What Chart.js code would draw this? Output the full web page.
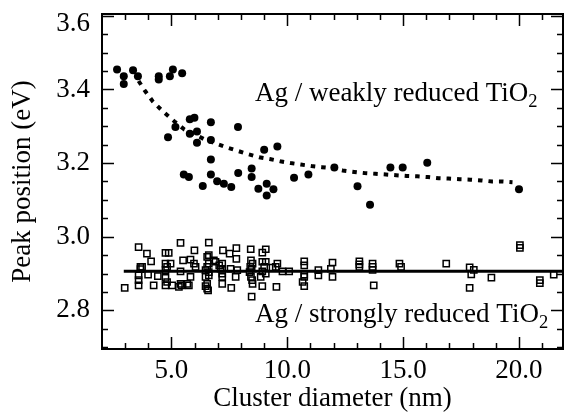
<!DOCTYPE html>
<html>
<head>
<meta charset="utf-8">
<script src="https://cdn.jsdelivr.net/npm/chart.js@4/dist/chart.umd.min.js"></script>
<style>
    html, body { margin: 0; padding: 0; background: #fff; }
</style>
</head>
<body>
<canvas id="chart" width="565" height="416"></canvas>
<script>
// Ag on weakly reduced TiO2 (filled circles)
const weakX = [2.65, 2.94, 2.94, 3.34, 3.55, 4.45, 4.45, 4.93, 5.06, 5.46,
               5.79, 5.99, 5.17, 6.70, 4.85, 5.79, 6.10, 6.10, 6.70, 6.70,
               5.53, 5.75, 6.70, 6.97, 6.35, 7.26, 7.58, 7.87, 9.00, 9.57,
               8.46, 8.46, 7.88, 8.75, 9.11, 9.40, 9.11, 10.29, 10.91, 12.03,
               13.03, 13.57, 14.45, 14.98, 16.04, 20.00];
const weakY = [3.454, 3.436, 3.415, 3.452, 3.436, 3.436, 3.427, 3.436, 3.454, 3.444,
               3.319, 3.323, 3.298, 3.311, 3.270, 3.280, 3.286, 3.255, 3.263, 3.210,
               3.169, 3.162, 3.169, 3.151, 3.138, 3.144, 3.135, 3.298, 3.236, 3.245,
               3.185, 3.162, 3.173, 3.130, 3.144, 3.129, 3.112, 3.160, 3.169, 3.188,
               3.137, 3.087, 3.188, 3.188, 3.201, 3.129];

// dotted trend curve through the weakly reduced data
const fitX = [3.58, 3.87, 4.20, 4.67, 5.13, 5.56, 6.04, 6.50, 6.93, 7.41,
              7.87, 8.32, 8.78, 9.24, 9.69, 10.15, 10.58, 11.04, 11.49, 11.95,
              12.39, 12.89, 13.32, 13.80, 14.26, 14.70, 15.16, 15.61, 16.07, 16.53,
              16.96, 17.44, 17.90, 18.38, 18.84, 19.27, 19.72];
const fitY = [3.423, 3.395, 3.367, 3.338, 3.313, 3.291, 3.277, 3.262, 3.253, 3.242,
              3.233, 3.224, 3.216, 3.211, 3.205, 3.200, 3.196, 3.192, 3.189, 3.186,
              3.180, 3.176, 3.173, 3.171, 3.169, 3.167, 3.165, 3.164, 3.162, 3.159,
              3.158, 3.156, 3.155, 3.153, 3.150, 3.150, 3.148];

// Ag on strongly reduced TiO2 (open squares)
const strongX = [2.98, 3.58, 3.94, 4.12, 3.66, 3.73, 3.66, 3.58, 3.58, 3.58,
                 3.99, 4.23, 4.41, 4.74, 4.88, 4.74, 4.81, 4.74, 4.96, 4.74,
                 4.81, 4.74, 5.03, 5.32, 5.43, 5.39, 5.68, 5.75, 5.39, 5.50,
                 5.39, 5.82, 5.99, 5.97, 6.04, 5.82, 6.61, 6.54, 6.61, 6.61,
                 6.54, 6.47, 6.61, 6.47, 6.61, 6.54, 6.47, 6.54, 6.58, 6.83,
                 6.90, 7.06, 7.12, 7.22, 7.51, 7.80, 7.80, 7.19, 7.19, 7.19,
                 7.19, 7.19, 7.55, 7.84, 7.77, 7.58, 8.42, 8.43, 8.50, 8.40,
                 8.46, 8.37, 8.43, 8.48, 8.50, 8.46, 8.92, 9.07, 8.92, 9.07,
                 9.00, 8.92, 9.07, 8.85, 8.92, 9.53, 9.57, 9.50, 9.36, 9.79,
                 10.08, 10.73, 10.73, 10.73, 10.73, 10.66, 10.73, 11.34, 11.34, 11.95,
                 11.88, 11.95, 13.11, 13.11, 13.11, 13.68, 13.68, 13.68, 13.73, 14.84,
                 14.91, 16.86, 17.87, 18.05, 17.94, 17.87, 18.81, 20.04, 20.04, 20.90,
                 20.90, 21.50];
const strongY = [2.861, 2.972, 2.954, 2.933, 2.918, 2.918, 2.912, 2.895, 2.882, 2.868,
                 2.897, 2.868, 2.893, 2.956, 2.956, 2.927, 2.918, 2.909, 2.927, 2.888,
                 2.877, 2.868, 2.868, 2.864, 2.868, 2.872, 2.872, 2.868, 2.983, 2.936,
                 2.906, 2.938, 2.963, 2.927, 2.918, 2.891, 2.984, 2.945, 2.950, 2.927,
                 2.918, 2.909, 2.904, 2.891, 2.895, 2.872, 2.866, 2.859, 2.854, 2.936,
                 2.932, 2.922, 2.913, 2.963, 2.954, 2.969, 2.940, 2.927, 2.913, 2.900,
                 2.891, 2.872, 2.913, 2.909, 2.891, 2.861, 2.966, 2.936, 2.927, 2.918,
                 2.913, 2.904, 2.891, 2.882, 2.872, 2.837, 2.957, 2.966, 2.932, 2.932,
                 2.918, 2.906, 2.900, 2.891, 2.866, 2.864, 2.927, 2.918, 2.916, 2.906,
                 2.906, 2.933, 2.922, 2.897, 2.891, 2.877, 2.866, 2.909, 2.895, 2.930,
                 2.913, 2.891, 2.933, 2.925, 2.918, 2.927, 2.918, 2.910, 2.868, 2.927,
                 2.918, 2.927, 2.917, 2.910, 2.898, 2.861, 2.889, 2.977, 2.970, 2.882,
                 2.874, 2.897];

// flat level of the strongly reduced data
const levelX = [2.94, 21.9];
const levelY = [2.906, 2.906];

const xTicks = [5, 10, 15, 20];
const yTicks = [2.8, 3.0, 3.2, 3.4, 3.6];
const Y_TOP = 3.6;   // this label sits just inside the top edge

const FONT = "'Liberation Serif', 'Times New Roman', serif";

function toPoints(xs, ys)
{
    return xs.map((v, i) => ({ x: v, y: ys[i] }));
}

// ticks pointing inwards on all four sides, plus the box
const frameTicks =
{
    id: 'frameTicks',
    afterDraw(chart)
    {
        const { ctx, chartArea: a, scales: { x, y } } = chart;
        ctx.save();
        ctx.strokeStyle = '#000';
        ctx.lineWidth = 1.5;
        ctx.beginPath();
        for (let v = 3; v <= 21; v++)
        {
            const px = Math.round(x.getPixelForValue(v)) + 0.5;
            const len = xTicks.includes(v) ? 12 : 6;
            ctx.moveTo(px, a.bottom); ctx.lineTo(px, a.bottom - len);
            ctx.moveTo(px, a.top); ctx.lineTo(px, a.top + len);
        }
        for (let i = 0; i <= 18; i++)
        {
            const v = 2.7 + i * 0.05;
            const py = Math.round(y.getPixelForValue(v)) + 0.5;
            const len = yTicks.some(t => Math.abs(t - v) < 1e-6) ? 12 : 6;
            ctx.moveTo(a.left, py); ctx.lineTo(a.left + len, py);
            ctx.moveTo(a.right, py); ctx.lineTo(a.right - len, py);
        }
        ctx.stroke();
        ctx.lineWidth = 2;
        ctx.strokeRect(a.left, a.top, a.right - a.left, a.bottom - a.top);

        // top y label, nudged down like in the original
        ctx.fillStyle = '#000';
        ctx.font = '27px ' + FONT;
        ctx.textAlign = 'right';
        ctx.textBaseline = 'middle';
        ctx.fillText(Y_TOP.toFixed(1), a.left - 12, y.getPixelForValue(Y_TOP) + 8);
        ctx.restore();
    }
};

// "Ag / ... TiO2" labels with a subscript 2
const seriesLabels =
{
    id: 'seriesLabels',
    afterDraw(chart)
    {
        const { ctx, scales: { x, y } } = chart;
        const items =
        [
            { text: 'Ag / weakly reduced TiO', x: 8.6, y: 3.37 },
            { text: 'Ag / strongly reduced TiO', x: 8.6, y: 2.768 }
        ];
        ctx.save();
        ctx.fillStyle = '#000';
        ctx.textBaseline = 'alphabetic';
        ctx.textAlign = 'left';
        for (const it of items)
        {
            const px = x.getPixelForValue(it.x);
            const py = y.getPixelForValue(it.y);
            ctx.font = '27px ' + FONT;
            ctx.fillText(it.text, px, py);
            const w = ctx.measureText(it.text).width;
            ctx.font = '18.5px ' + FONT;
            ctx.fillText('2', px + w, py + 6);
        }
        ctx.restore();
    }
};

new Chart(document.getElementById('chart'),
{
    type: 'scatter',
    data:
    {
        datasets:
        [
            {
                label: 'weak',
                data: toPoints(weakX, weakY),
                pointStyle: 'circle',
                pointRadius: 4,
                backgroundColor: '#000',
                borderColor: '#000',
                borderWidth: 0
            },
            {
                label: 'fit',
                type: 'line',
                data: toPoints(fitX, fitY),
                showLine: true,
                borderColor: '#000',
                borderWidth: 4,
                borderDash: [4.5, 6],
                pointRadius: 0,
                tension: 0,
                fill: false
            },
            {
                label: 'strong',
                data: toPoints(strongX, strongY),
                pointStyle: 'rect',
                pointRadius: 4.4,
                backgroundColor: 'rgba(255,255,255,0)',
                borderColor: '#000',
                borderWidth: 1.5
            },
            {
                label: 'level',
                type: 'line',
                data: toPoints(levelX, levelY),
                showLine: true,
                borderColor: '#000',
                borderWidth: 3,
                pointRadius: 0,
                fill: false
            }
        ]
    },
    options:
    {
        responsive: false,
        animation: false,
        layout:
        {
            autoPadding: false,
            padding: { left: 0, right: 2, top: 14, bottom: 0 }
        },
        plugins:
        {
            legend: { display: false },
            tooltip: { enabled: false }
        },
        scales:
        {
            x:
            {
                type: 'linear',
                min: 2.0,
                max: 21.9,
                grid: { display: false, drawTicks: false },
                border: { display: false },
                afterFit: (s) => { s.height = 67; s.paddingLeft = 0; s.paddingRight = 0; },
                afterBuildTicks: (s) => { s.ticks = xTicks.map(v => ({ value: v })); },
                ticks:
                {
                    padding: 8,
                    color: '#000',
                    font: { family: FONT, size: 27, lineHeight: 1 },
                    maxRotation: 0,
                    callback: (v) => Number(v).toFixed(1)
                },
                title:
                {
                    display: true,
                    text: 'Cluster diameter (nm)',
                    color: '#000',
                    font: { family: FONT, size: 27 },
                    padding: { top: 0, bottom: 1 }
                }
            },
            y:
            {
                type: 'linear',
                min: 2.695,
                max: 3.605,
                grid: { display: false, drawTicks: false },
                border: { display: false },
                afterFit: (s) => { s.width = 102; s.paddingTop = 0; s.paddingBottom = 0; },
                afterBuildTicks: (s) => { s.ticks = yTicks.map(v => ({ value: v })); },
                ticks:
                {
                    padding: 12,
                    color: '#000',
                    font: { family: FONT, size: 27 },
                    callback: (v) => (v === Y_TOP ? '' : Number(v).toFixed(1))
                },
                title:
                {
                    display: true,
                    text: 'Peak position (eV)',
                    color: '#000',
                    font: { family: FONT, size: 27 },
                    padding: { top: 7, bottom: 0 }
                }
            }
        }
    },
    plugins: [frameTicks, seriesLabels]
});
</script>
</body>
</html>
